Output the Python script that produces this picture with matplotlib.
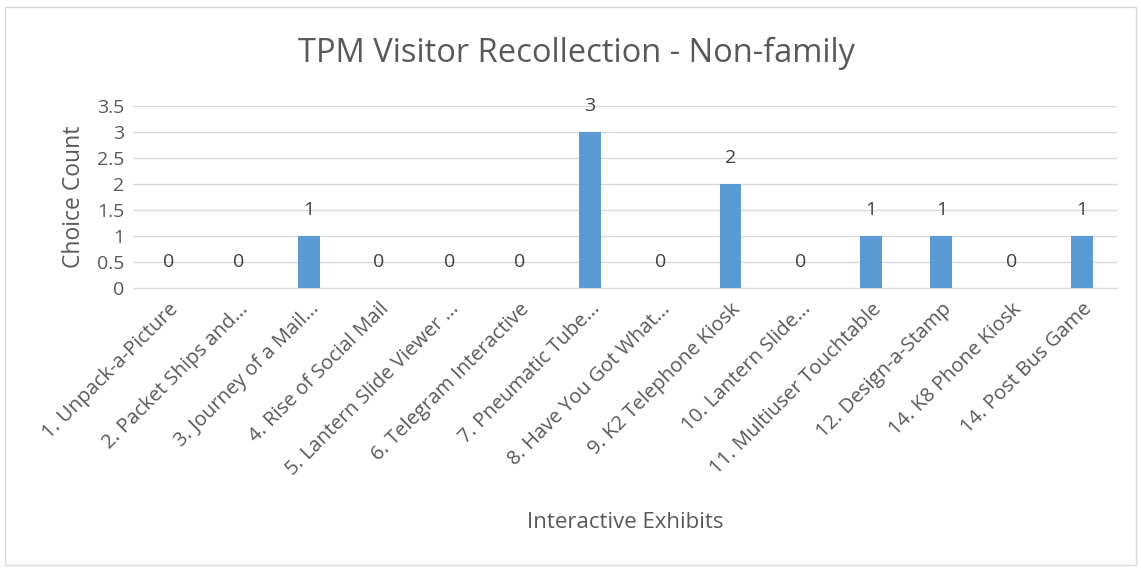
import matplotlib.pyplot as plt
import numpy as np
from matplotlib.patches import Rectangle

exhibits = ["1. Unpack-a-Picture", "2. Packet Ships and...", "3. Journey of a Mail...",
            "4. Rise of Social Mail", "5. Lantern Slide Viewer ...", "6. Telegram Interactive",
            "7. Pneumatic Tube...", "8. Have You Got What...", "9. K2 Telephone Kiosk",
            "10. Lantern Slide...", "11. Multiuser Touchtable", "12. Design-a-Stamp",
            "14. K8 Phone Kiosk", "14. Post Bus Game"]
counts = [0, 0, 1, 0, 0, 0, 3, 0, 2, 0, 1, 1, 0, 1]
yticks = [0, 0.5, 1, 1.5, 2, 2.5, 3, 3.5]

plt.rcParams['font.family'] = ['Open Sans', 'DejaVu Sans']
txt = '#595959'

fig = plt.figure(figsize=(11.41, 5.69), dpi=100)
ax = fig.add_axes([133/1141, 1 - 288/569, (1117-133)/1141, (288-106)/569])

x = np.arange(len(exhibits))
bars = ax.bar(x, counts, width=0.31, color='#5B9BD5', zorder=3)
for xi, c in zip(x, counts):
    ax.text(xi, c + 0.5, str(c), ha='center', va='center', fontsize=14, color='#404040')

ax.set_xlim(-0.5, len(exhibits) - 0.5)
ax.set_ylim(0, 3.5)
ax.set_yticks(yticks)
ax.set_yticklabels([f"{v:g}" for v in yticks], fontsize=14, color=txt)
ax.set_xticks(x)
ax.set_xticklabels(exhibits, rotation=45, ha='right', rotation_mode='anchor',
                   fontsize=14.5, color=txt)
ax.tick_params(length=0, pad=6)
ax.tick_params(axis='x', pad=8)
ax.grid(axis='y', color='#D9D9D9', linewidth=1, zorder=0)
for s in ['top', 'right', 'left']:
    ax.spines[s].set_visible(False)
ax.spines['bottom'].set_color('#D9D9D9')

ax.set_ylabel("Choice Count", fontsize=16.5, color=txt, labelpad=8)
fig.text(625/1141, 1 - 522/569, "Interactive Exhibits", ha='center', va='center',
         fontsize=16, color=txt)
fig.text(577/1141, 1 - 53/569, "TPM Visitor Recollection - Non-family", ha='center',
         va='center', fontsize=23.5, color=txt)

fig.patches.append(Rectangle((5/1141, 4/569), 1131/1141, 558/569, transform=fig.transFigure,
                             fill=False, edgecolor='#D9D9D9', linewidth=1))

fig.savefig("out.png", dpi=100)
